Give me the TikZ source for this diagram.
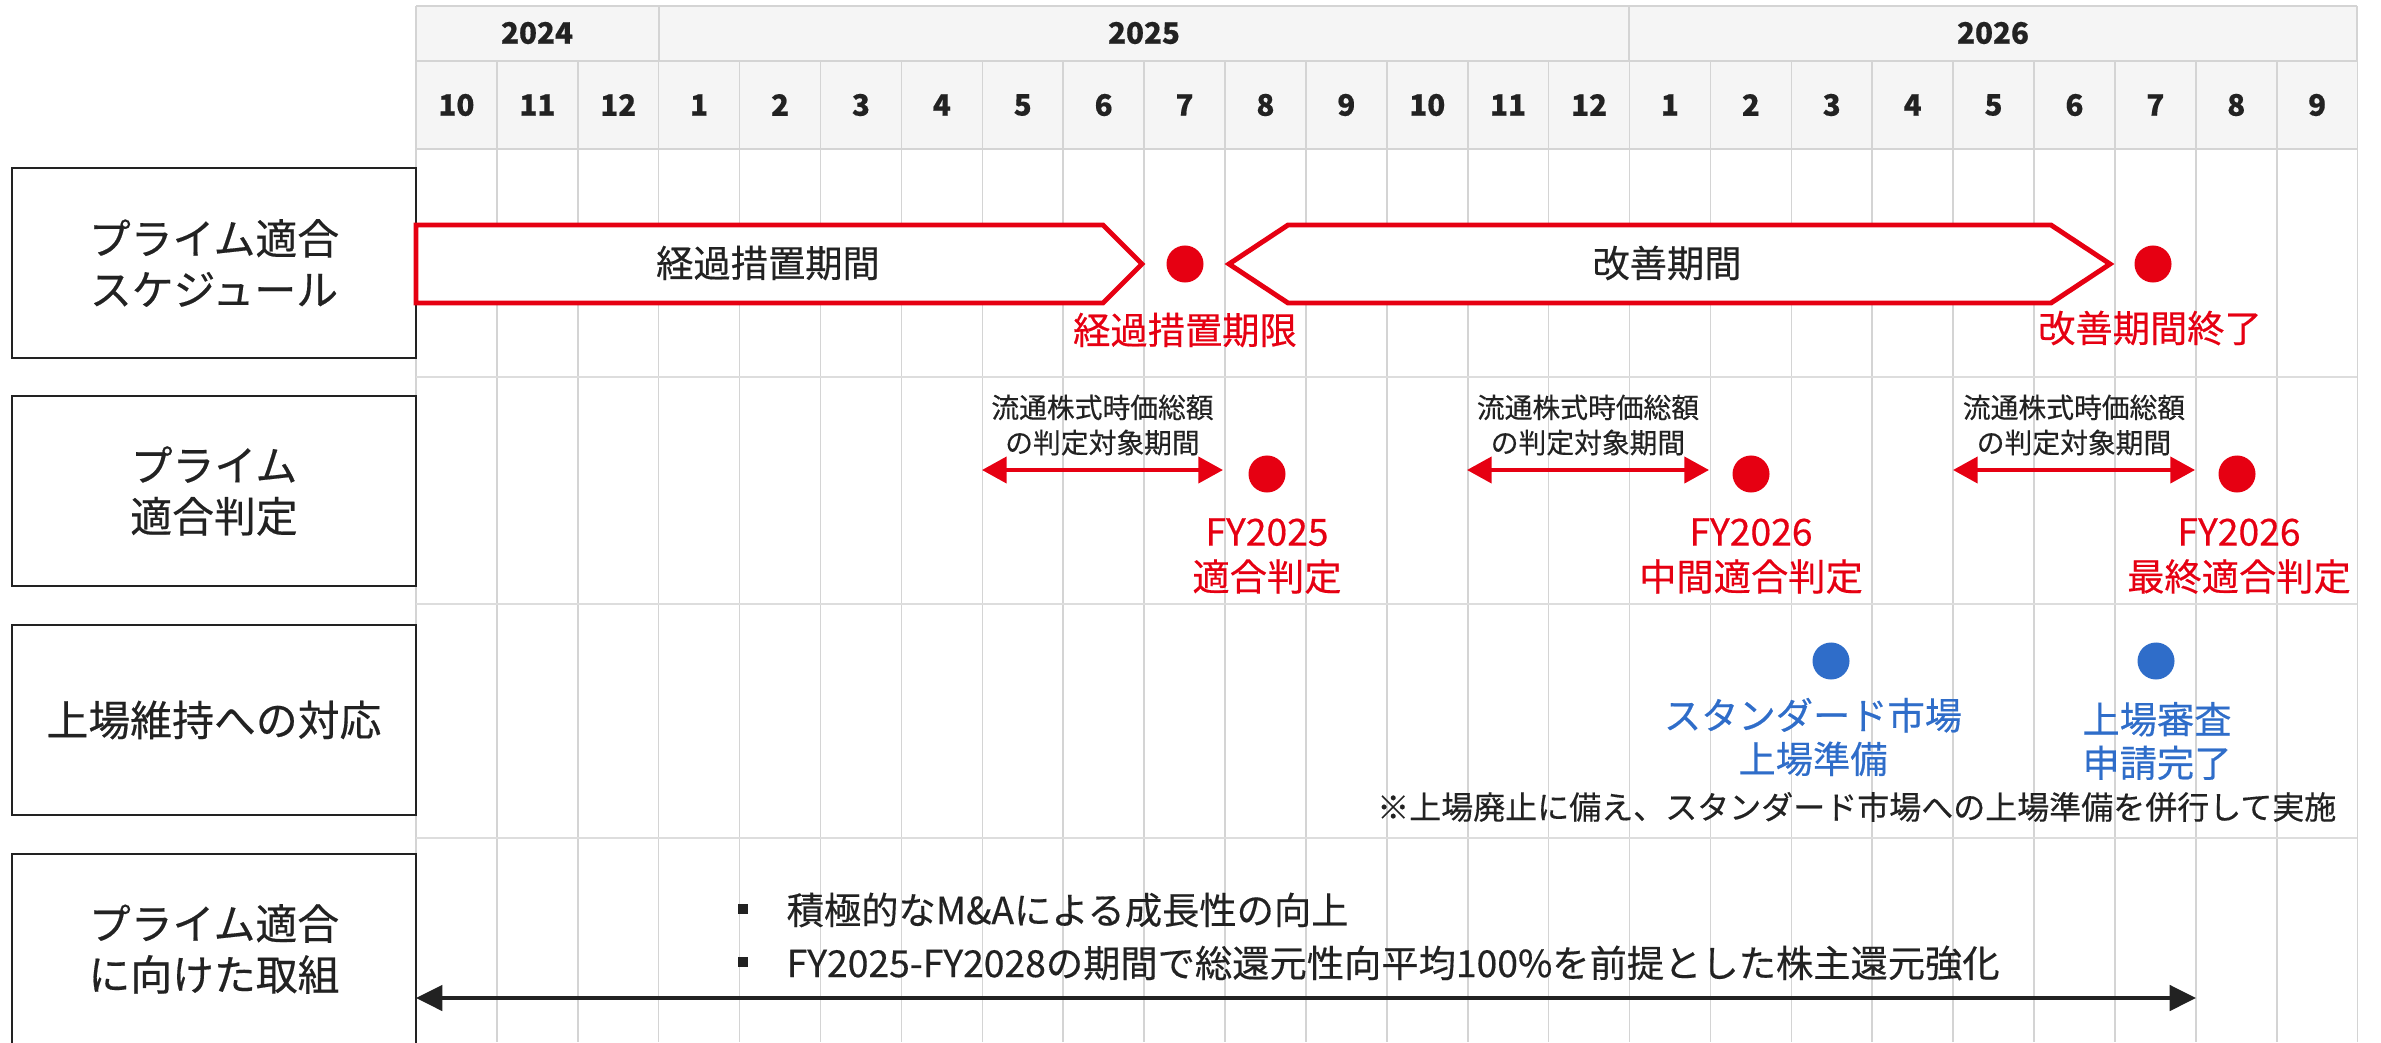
\documentclass[tikz,border=0pt]{standalone}
\usepackage{fontspec}
\setmainfont{Noto Sans CJK JP}[FakeBold=0.4]
\usetikzlibrary{arrows.meta,calc}

\definecolor{fitred}{HTML}{E60012}
\definecolor{fitblue}{HTML}{2F6DC9}
\definecolor{gridgray}{HTML}{D4D4D4}
\definecolor{headbg}{HTML}{F5F5F5}
\definecolor{ink}{HTML}{222222}

\tikzset{
  rowlabel/.style={draw=ink, line width=0.75pt, fill=white, minimum width=4.04cm, minimum height=1.9cm,
    align=center, text=ink, font=\fontsize{11.9}{14.5}\selectfont},
  headtext/.style={text=ink, font=\fontsize{8.4}{10}\selectfont\bfseries},
  gridrule/.style={draw=gridgray, line width=0.45pt},
  rowrule/.style={draw=gridgray!80, line width=0.8pt},
  period/.style={draw=fitred, line width=1.4pt, fill=white, line join=miter},
  periodtext/.style={text=ink, font=\fontsize{10.6}{12}\selectfont},
  reddot/.style={circle, fill=fitred, minimum size=0.37cm, inner sep=0pt},
  bluedot/.style={circle, fill=fitblue, minimum size=0.37cm, inner sep=0pt},
  redlabel/.style={text=fitred, align=center, font=\fontsize{10.6}{12.8}\selectfont},
  bluelabel/.style={text=fitblue, align=center, font=\fontsize{10.6}{12.4}\selectfont},
  wintext/.style={text=ink, align=center, font=\fontsize{7.9}{10}\selectfont},
  judgewin/.style={draw=fitred, line width=1.1pt, {Triangle[length=7pt,width=7.4pt]}-{Triangle[length=7pt,width=7.4pt]}},
  effortline/.style={draw=ink, line width=1.1pt, {Triangle[length=7.5pt,width=7.2pt]}-{Triangle[length=7.5pt,width=7.2pt]}},
  bulletsq/.style={rectangle, fill=ink, minimum size=0.1cm, inner sep=0pt},
  bullettext/.style={anchor=west, inner sep=0pt, text=ink, font=\fontsize{10.6}{12}\selectfont},
  notetext/.style={anchor=east, inner sep=0pt, text=ink, font=\fontsize{9.1}{11}\selectfont}
}

\begin{document}
\begin{tikzpicture}[x=0.01cm, y=-0.01cm]
    \useasboundingbox (0,0) rectangle (2381,1042);

    % Header background and rules
    \fill[headbg] (416,6) rectangle (2357,149);
    \foreach \y in {6,61,149}
        \draw[gridrule] (416,\y) -- (2357,\y);
    \foreach \x in {416,659,1629,2357}
        \draw[gridrule] (\x,6) -- (\x,61);
    \foreach \i in {0,...,24}
        \draw[gridrule] ({416+\i*80.9},61) -- ({416+\i*80.9},1042);
    \foreach \y in {377,604,838}
        \draw[rowrule] (416,\y) -- (2357,\y);

    % Years and months
    \node[headtext] (y2024) at (537,33) {2024};
    \node[headtext] (y2025) at (1144,33) {2025};
    \node[headtext] (y2026) at (1993,33) {2026};
    \foreach \m [count=\i from 0] in {10,11,12,1,2,3,4,5,6,7,8,9,10,11,12,1,2,3,4,5,6,7,8,9}
        \node[headtext] (m\i) at ({416+(\i+0.5)*80.9},105) {\m};

    % Row labels
    \node[rowlabel] (sched) at (214,263) {プライム適合\\スケジュール};
    \node[rowlabel] (judge) at (214,491) {プライム\\適合判定};
    \node[rowlabel] (keep) at (214,720) {上場維持への対応};
    \node[rowlabel] (effort) at (214,949) {プライム適合\\に向けた取組};

    % Schedule: transition and improvement periods
    \draw[period] (416,225) -- (1103,225) -- (1142,264) -- (1103,303) -- (416,303) -- cycle;
    \node[periodtext] (transit) at (768,263) {経過措置期間};
    \draw[period] (1229,264) -- (1288,225) -- (2051,225) -- (2110,264) -- (2051,303) -- (1288,303) -- cycle;
    \node[periodtext] (improve) at (1667,263) {改善期間};

    \node[reddot] (transitend) at (1185,264) {};
    \node[redlabel] (transitendlbl) at (1185,330) {経過措置期限};
    \node[reddot] (improveend) at (2153,264) {};
    \node[redlabel] (improveendlbl) at (2150,328) {改善期間終了};

    % Judgement windows
    \coordinate (win1a) at (982,470);
    \coordinate (win1b) at (1223,470);
    \coordinate (win2a) at (1467,470);
    \coordinate (win2b) at (1709,470);
    \coordinate (win3a) at (1953,470);
    \coordinate (win3b) at (2195,470);
    \foreach \w in {1,2,3} {
        \draw[judgewin] (win\w a) -- (win\w b);
        \node[wintext] (win\w lbl) at ($(win\w a)!0.5!(win\w b)+(0,-45)$) {流通株式時価総額\\の判定対象期間};
    }

    \node[reddot] (fy25) at (1267,474) {};
    \node[redlabel] (fy25lbl) at (1267,556) {FY2025\\適合判定};
    \node[reddot] (fy26mid) at (1751,474) {};
    \node[redlabel] (fy26midlbl) at (1751,556) {FY2026\\中間適合判定};
    \node[reddot] (fy26fin) at (2237,474) {};
    \node[redlabel] (fy26finlbl) at (2239,556) {FY2026\\最終適合判定};

    % Listing maintenance
    \node[bluedot] (stdprep) at (1831,661) {};
    \node[bluelabel] (stdpreplbl) at (1813,737) {スタンダード市場\\上場準備};
    \node[bluedot] (review) at (2156,661) {};
    \node[bluelabel] (reviewlbl) at (2157,741) {上場審査\\申請完了};
    \node[notetext] (note) at (2337,807) {※上場廃止に備え、スタンダード市場への上場準備を併行して実施};

    % Initiatives
    \node[bulletsq] (bul1) at (743,909) {};
    \node[bullettext] (act1) at (786,910) {積極的なM\&Aによる成長性の向上};
    \node[bulletsq] (bul2) at (743,962) {};
    \node[bullettext] (act2) at (786,963) {FY2025-FY2028の期間で総還元性向平均100\%を前提とした株主還元強化};
    \coordinate (actL) at (416,998);
    \coordinate (actR) at (2196,998);
    \draw[effortline] (actL) -- (actR);
\end{tikzpicture}
\end{document}
